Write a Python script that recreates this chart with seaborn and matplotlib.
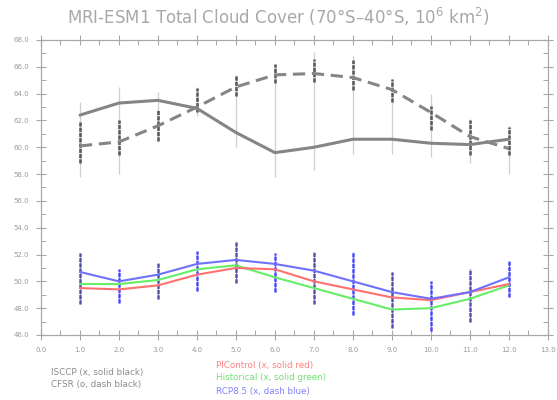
import numpy as np
import pandas as pd
import matplotlib
matplotlib.use("Agg")
import matplotlib.pyplot as plt
import seaborn as sns
from matplotlib.ticker import MultipleLocator, FormatStrFormatter

# Monthly mean total cloud cover, 70S-40S (10^6 km^2)
months = [1, 2, 3, 4, 5, 6, 7, 8, 9, 10, 11, 12]
isccp = [62.4, 63.3, 63.5, 62.9, 61.1, 59.6, 60.0, 60.6, 60.6, 60.3, 60.2, 60.6]
cfsr = [60.1, 60.4, 61.6, 63.0, 64.5, 65.4, 65.5, 65.2, 64.3, 62.6, 60.8, 59.9]
picontrol = [49.5, 49.4, 49.7, 50.5, 51.0, 50.9, 50.0, 49.4, 48.8, 48.6, 49.2, 49.8]
historical = [49.8, 49.8, 50.1, 50.9, 51.2, 50.3, 49.5, 48.7, 47.9, 48.0, 48.7, 49.7]
rcp85 = [50.7, 50.0, 50.5, 51.3, 51.6, 51.3, 50.8, 50.0, 49.2, 48.7, 49.2, 50.3]

# Spread of individual years / members for each month
obs_lo = [57.8, 58.0, 60.5, 62.3, 60.0, 57.8, 58.3, 59.5, 59.5, 59.3, 58.8, 58.0]
obs_hi = [63.4, 64.5, 64.1, 64.5, 65.4, 66.2, 67.1, 66.8, 65.1, 64.0, 62.1, 61.6]
cfsr_lo = [58.8, 59.4, 60.5, 62.6, 63.8, 64.8, 64.9, 64.3, 63.4, 61.3, 59.4, 59.4]
cfsr_hi = [61.9, 62.0, 62.8, 64.4, 65.4, 66.2, 66.6, 66.5, 65.1, 63.1, 62.0, 61.5]
model_lo = [48.3, 48.4, 48.7, 49.3, 49.9, 49.2, 48.3, 47.5, 46.5, 46.3, 47.0, 48.8]
model_hi = [52.1, 50.9, 51.4, 52.3, 52.9, 52.1, 52.2, 52.2, 50.7, 50.0, 50.9, 51.5]

x_ticks = [0.0, 1.0, 2.0, 3.0, 4.0, 5.0, 6.0, 7.0, 8.0, 9.0, 10.0, 11.0, 12.0, 13.0]
y_ticks = [46.0, 48.0, 50.0, 52.0, 54.0, 56.0, 58.0, 60.0, 62.0, 64.0, 66.0, 68.0]

sns.set_theme(style="white")
plt.rcParams["font.family"] = ["DejaVu Sans"]

fig = plt.figure(figsize=(5.57, 4.0), dpi=100)
ax = fig.add_axes([0.0736, 0.1625, 0.910, 0.7375])

axis_grey = "#a8a8a8"
black_line = "#858585"

# spread columns
ax.vlines(months, obs_lo, obs_hi, color="#cfcfcf", lw=0.9, zorder=1)
ax.vlines(months, cfsr_lo, cfsr_hi, color="#2a2a2a", lw=2.0, alpha=0.7, zorder=2,
          linestyles=(0, (1.5, 0.4)))
ax.vlines(months, model_lo, model_hi, color="#3a3aff", lw=2.0, alpha=0.75, zorder=2,
          linestyles=(0, (1.5, 0.4)))
ax.vlines(months, model_lo, model_hi, color="#303050", lw=0.6, alpha=0.55, zorder=2)

df = pd.DataFrame({
    "month": months * 5,
    "value": isccp + cfsr + picontrol + historical + rcp85,
    "series": (["ISCCP"] * 12 + ["CFSR"] * 12 + ["PIControl"] * 12
               + ["Historical"] * 12 + ["RCP8.5"] * 12),
})

palette = {"ISCCP": black_line, "CFSR": black_line, "PIControl": "#ff7070",
           "Historical": "#66ee66", "RCP8.5": "#7070ff"}
sns.lineplot(data=df[df.series == "ISCCP"], x="month", y="value", color=palette["ISCCP"],
             lw=2.2, ax=ax, zorder=3)
sns.lineplot(data=df[df.series == "CFSR"], x="month", y="value", color=palette["CFSR"],
             lw=2.2, ax=ax, zorder=3, dashes=False, linestyle=(0, (4, 2.2)))
for name in ["Historical", "PIControl", "RCP8.5"]:
    sns.lineplot(data=df[df.series == name], x="month", y="value", color=palette[name],
                 lw=1.5, ax=ax, zorder=4)

ax.set_xlim(0, 13)
ax.set_ylim(46, 68)
ax.set_xticks(x_ticks)
ax.set_yticks(y_ticks)
ax.xaxis.set_major_formatter(FormatStrFormatter("%.1f"))
ax.yaxis.set_major_formatter(FormatStrFormatter("%.1f"))
ax.xaxis.set_minor_locator(MultipleLocator(0.5))
ax.yaxis.set_minor_locator(MultipleLocator(1.0))
ax.tick_params(which="major", direction="inout", length=7, width=0.8, color=axis_grey,
               labelsize=5, labelcolor="#9a9a9a", top=True, right=True, pad=5)
ax.tick_params(which="minor", direction="in", length=3.5, width=0.7, color=axis_grey,
               top=True, right=True)
ax.tick_params(axis="both", which="both", bottom=True, left=True)
for s in ax.spines.values():
    s.set_color(axis_grey)
    s.set_linewidth(0.9)
ax.set_xlabel("")
ax.set_ylabel("")
ax.grid(False)

fig.text(0.5, 0.957, "MRI-ESM1 Total Cloud Cover (70\u00b0S\u201340\u00b0S, 10$^6$ km$^2$)",
         ha="center", va="center", fontsize=12, color="#a8a8a8")

fig.text(0.092, 0.068, "ISCCP (x, solid black)", fontsize=6.3, color="#8a8a8a", va="center")
fig.text(0.092, 0.040, "CFSR (o, dash black)", fontsize=6.3, color="#8a8a8a", va="center")
fig.text(0.388, 0.087, "PIControl (x, solid red)", fontsize=6.3, color="#ff8080", va="center")
fig.text(0.388, 0.055, "Historical (x, solid green)", fontsize=6.3, color="#70e070", va="center")
fig.text(0.388, 0.022, "RCP8.5 (x, dash blue)", fontsize=6.3, color="#8080ff", va="center")

fig.savefig("out.png", dpi=100)
